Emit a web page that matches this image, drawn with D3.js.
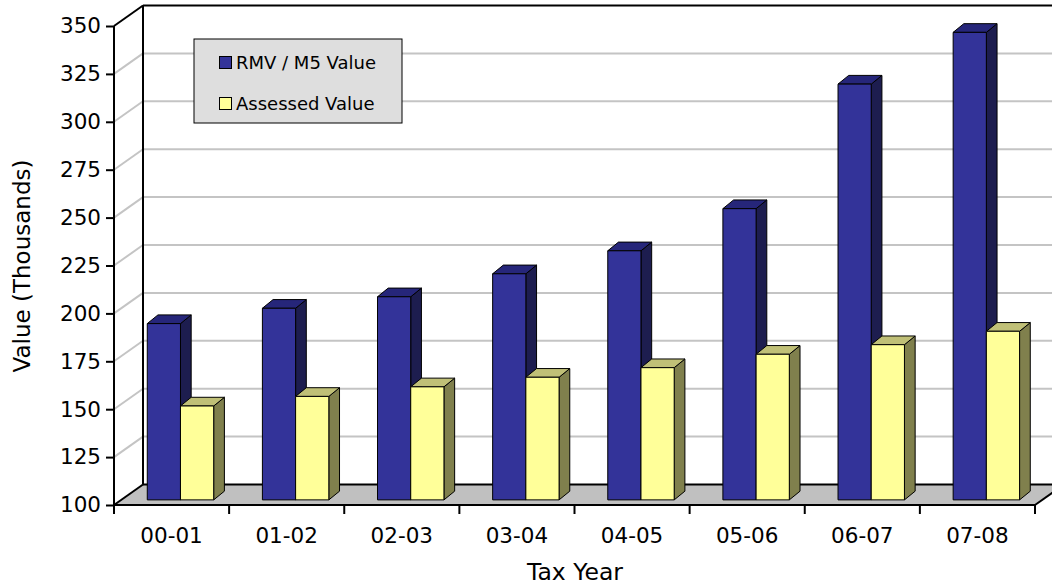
<!DOCTYPE html>
<html>
<head>
<meta charset="utf-8">
<script src="https://cdn.jsdelivr.net/npm/d3@7"></script>
<style>
  html, body { margin: 0; padding: 0; background: #ffffff; }
  svg { display: block; }
  text { font-family: "DejaVu Sans", Verdana, sans-serif; fill: #000; }
</style>
</head>
<body>
<svg id="chart" width="1052" height="588"></svg>
<script>
// Chart data
const categories = ["00-01", "01-02", "02-03", "03-04", "04-05", "05-06", "06-07", "07-08"];
const rmvValues = [192, 200, 206, 218, 230, 252, 317, 344];
const assessedValues = [149, 154, 159, 164, 169, 176, 181, 188];
const seriesNames = ["RMV / M5 Value", "Assessed Value"];
const yTickValues = [100, 125, 150, 175, 200, 225, 250, 275, 300, 325, 350];

// Styling for each series: front, top, side faces
const seriesColors = [
  { front: "#333399", top: "#26267a", side: "#1d1d4f" },
  { front: "#ffff99", top: "#c0c077", side: "#80804d" }
];

const svg = d3.select("#chart");

// Front plane of the 3D box
const x0 = 114, x1 = 1035, yBase = 505, yTop = 26;
// Depth vector of the whole plot box
const DX = 29, DY = -20.5;

const x = d3.scaleBand().domain(categories).range([x0, x1]);
const y = d3.scaleLinear().domain([100, 350]).range([yBase, yTop]);

const series = [rmvValues, assessedValues];

// ---- Walls: gridlines on side wall and back wall ----
const grid = svg.append("g");
yTickValues.filter(v => v > 100 && v < 350).forEach(v => {
  const yy = y(v);
  grid.append("line")
    .attr("x1", x0).attr("y1", yy).attr("x2", x0 + DX).attr("y2", yy + DY)
    .attr("stroke", "#c4c4c4").attr("stroke-width", 2);
  grid.append("line")
    .attr("x1", x0 + DX).attr("y1", yy + DY).attr("x2", x1 + DX + 40).attr("y2", yy + DY)
    .attr("stroke", "#c4c4c4").attr("stroke-width", 2);
});

// ---- Floor ----
svg.append("path")
  .attr("d", `M${x0},${yBase} L${x1},${yBase} L${x1 + DX},${yBase + DY} L${x0 + DX},${yBase + DY} Z`)
  .attr("fill", "#c0c0c0");

// ---- Box edges ----
const edges = svg.append("g").attr("stroke", "#000").attr("stroke-width", 2).attr("fill", "none");
// back wall bottom and top
edges.append("line").attr("x1", x0 + DX).attr("y1", yBase + DY).attr("x2", x1 + DX + 40).attr("y2", yBase + DY);
edges.append("line").attr("x1", x0 + DX).attr("y1", yTop + DY).attr("x2", x1 + DX + 40).attr("y2", yTop + DY);
// back-left vertical edge
edges.append("line").attr("x1", x0 + DX).attr("y1", yTop + DY).attr("x2", x0 + DX).attr("y2", yBase + DY);
// side wall diagonals
edges.append("line").attr("x1", x0).attr("y1", yTop).attr("x2", x0 + DX).attr("y2", yTop + DY);
edges.append("line").attr("x1", x0).attr("y1", yBase).attr("x2", x0 + DX).attr("y2", yBase + DY);
// floor right diagonal
edges.append("line").attr("x1", x1).attr("y1", yBase).attr("x2", x1 + DX).attr("y2", yBase + DY);

// ---- Bars ----
const barFrac = 0.25;                 // depth position of bar front face
const bdx = 10.7, bdy = -8.7;         // bar depth
const offX = DX * barFrac, offY = DY * barFrac;
const barW = x.bandwidth() * 0.2885;  // width of one bar
const gapL = x.bandwidth() * 0.226;   // left gap in each category

const bars = svg.append("g").attr("stroke", "#000").attr("stroke-width", 1).attr("stroke-linejoin", "round");
categories.forEach((c, i) => {
  series.forEach((vals, s) => {
    const v = vals[i];
    const left = x(c) + gapL + offX + s * barW;
    const right = left + barW;
    const top = y(v) + offY;
    const bottom = y(100) + offY;
    const col = seriesColors[s];
    // right side
    bars.append("path")
      .attr("d", `M${right},${top} L${right + bdx},${top + bdy} L${right + bdx},${bottom + bdy} L${right},${bottom} Z`)
      .attr("fill", col.side);
    // top
    bars.append("path")
      .attr("d", `M${left},${top} L${left + bdx},${top + bdy} L${right + bdx},${top + bdy} L${right},${top} Z`)
      .attr("fill", col.top);
    // front
    bars.append("rect")
      .attr("x", left).attr("y", top).attr("width", barW).attr("height", bottom - top)
      .attr("fill", col.front);
  });
});

// ---- Y axis ----
const yAxis = svg.append("g")
  .attr("transform", `translate(${x0},0)`)
  .call(d3.axisLeft(y).tickValues(yTickValues).tickSize(8).tickPadding(5));
yAxis.select(".domain").attr("stroke", "#000").attr("stroke-width", 2)
  .attr("d", `M0,${yTop}V${yBase + 8}`);
yAxis.selectAll(".tick line").attr("stroke", "#000").attr("stroke-width", 2);
yAxis.selectAll(".tick text")
  .style("font-family", "'DejaVu Sans', Verdana, sans-serif")
  .style("font-size", "21.5px").attr("fill", "#000");

// ---- X axis ----
const xAxis = svg.append("g").attr("transform", `translate(0,${yBase})`);
xAxis.append("line").attr("x1", x0).attr("x2", x1).attr("y1", 0).attr("y2", 0)
  .attr("stroke", "#000").attr("stroke-width", 2);
const bounds = categories.map(c => x(c)).concat([x1]);
xAxis.selectAll("line.tk").data(bounds).enter().append("line").attr("class", "tk")
  .attr("x1", d => d).attr("x2", d => d).attr("y1", 0).attr("y2", 9)
  .attr("stroke", "#000").attr("stroke-width", 2);
xAxis.selectAll("text.cat").data(categories).enter().append("text").attr("class", "cat")
  .attr("x", d => x(d) + x.bandwidth() / 2).attr("y", 38)
  .attr("text-anchor", "middle").style("font-size", "21.5px").text(d => d);

// ---- Axis titles ----
svg.append("text").attr("x", 575).attr("y", 580).attr("text-anchor", "middle")
  .style("font-size", "23.5px").text("Tax Year");
svg.append("text").attr("transform", "translate(30,266) rotate(-90)").attr("text-anchor", "middle")
  .style("font-size", "23px").text("Value (Thousands)");

// ---- Legend ----
const legend = svg.append("g").attr("transform", "translate(194,39)");
legend.append("rect").attr("x", 0).attr("y", 0).attr("width", 208).attr("height", 84)
  .attr("fill", "#dedede").attr("stroke", "#000").attr("stroke-width", 1);
seriesNames.forEach((name, s) => {
  const yy = 17 + s * 41;
  legend.append("rect").attr("x", 25.5).attr("y", yy + 0.5).attr("width", 12).attr("height", 12)
    .attr("fill", seriesColors[s].front).attr("stroke", "#000").attr("stroke-width", 1);
  legend.append("text").attr("x", 42).attr("y", yy + 12.5).style("font-size", "18px").text(name);
});
</script>
</body>
</html>
